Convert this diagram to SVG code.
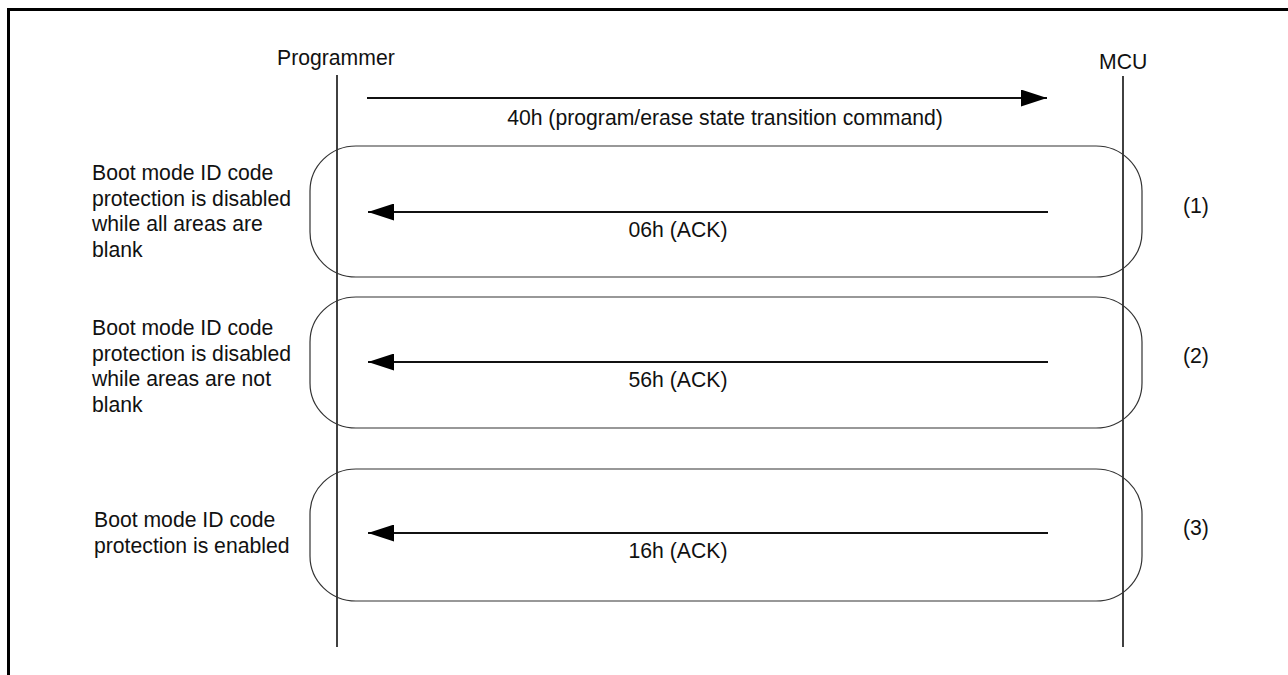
<svg xmlns="http://www.w3.org/2000/svg" width="1288" height="675" viewBox="0 0 1288 675">
  <style>
    text { font-family: "Liberation Sans", Arial, sans-serif; font-size: 21.2px; fill: #111; }
    .mid { text-anchor: middle; }
    .life { stroke: #111; stroke-width: 1.6; fill: none; }
    .box { stroke: #333; stroke-width: 1.2; fill: none; }
    .msg { stroke: #111; stroke-width: 2; fill: none; }
    .frame { stroke: #000; stroke-width: 3; fill: none; }
  </style>
  <defs>
    <marker id="ah" viewBox="0 0 26 17" refX="26" refY="8.5" markerWidth="26" markerHeight="17" markerUnits="userSpaceOnUse" orient="auto">
      <path d="M0,0 L26,8.5 L0,17 Z" fill="#000"/>
    </marker>
  </defs>
  <rect width="1288" height="675" fill="#fff"/>
  <path class="frame" d="M8.5,675 L8.5,9.5 L1288,9.5"/>

  <g id="programmer">
    <text x="277" y="65">Programmer</text>
    <line class="life" x1="337" y1="75" x2="337" y2="647"/>
  </g>
  <g id="mcu">
    <text x="1099" y="69">MCU</text>
    <line class="life" x1="1123" y1="76" x2="1123" y2="647"/>
  </g>

  <g id="case1">
    <rect class="box" x="310" y="146" width="832" height="131" rx="46" ry="45"/>
    <text x="92" y="180">Boot mode ID code</text>
    <text x="92" y="206">protection is disabled</text>
    <text x="92" y="231">while all areas are</text>
    <text x="92" y="257">blank</text>
    <text x="1183" y="213">(1)</text>
  </g>
  <g id="case2">
    <rect class="box" x="310" y="297" width="832" height="131" rx="46" ry="45"/>
    <text x="92" y="335">Boot mode ID code</text>
    <text x="92" y="361">protection is disabled</text>
    <text x="92" y="386">while areas are not</text>
    <text x="92" y="412">blank</text>
    <text x="1183" y="363">(2)</text>
  </g>
  <g id="case3">
    <rect class="box" x="310" y="469" width="832" height="132" rx="46" ry="45"/>
    <text x="94" y="527">Boot mode ID code</text>
    <text x="94" y="553">protection is enabled</text>
    <text x="1183" y="535">(3)</text>
  </g>

  <g id="connectors">
    <line class="msg" x1="367" y1="98" x2="1047" y2="98" marker-end="url(#ah)"/>
    <text class="mid" x="725" y="125">40h (program/erase state transition command)</text>
    <line class="msg" x1="1048" y1="212" x2="368" y2="212" marker-end="url(#ah)"/>
    <text class="mid" x="678" y="237">06h (ACK)</text>
    <line class="msg" x1="1048" y1="362" x2="368" y2="362" marker-end="url(#ah)"/>
    <text class="mid" x="678" y="387">56h (ACK)</text>
    <line class="msg" x1="1048" y1="533" x2="368" y2="533" marker-end="url(#ah)"/>
    <text class="mid" x="678" y="558">16h (ACK)</text>
  </g>
</svg>
